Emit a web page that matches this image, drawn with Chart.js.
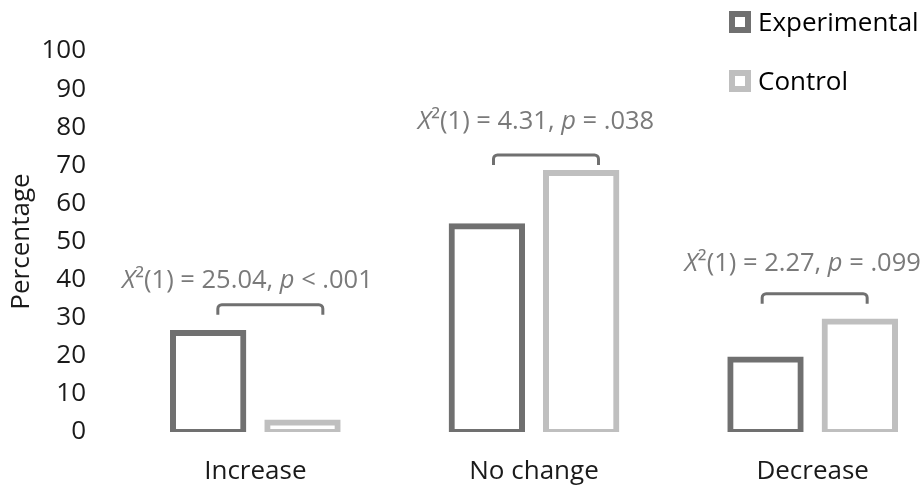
<!DOCTYPE html>
<html>
<head>
<meta charset="utf-8">
<script src="https://cdn.jsdelivr.net/npm/chart.js@4/dist/chart.umd.min.js"></script>
<style>
  html, body { margin: 0; padding: 0; background: #fff; overflow: hidden; }
  #wrap { position: relative; width: 922px; height: 490px; overflow: hidden; }
  #chart { position: absolute; left: 0; top: 0; }
</style>
</head>
<body>
<div id="wrap"><canvas id="chart" width="960" height="490"></canvas></div>
<script>
// Share of participants whose score went up, stayed the same or went down
const categories = ['Increase', 'No change', 'Decrease'];
const seriesNames = ['Experimental', 'Control'];
const experimental = [26, 54, 19];
const control = [2.5, 68, 29];
const yTicks = [0, 10, 20, 30, 40, 50, 60, 70, 80, 90, 100];

// Chi-square test between the two groups, one per category
const chiSquare = ['25.04', '4.31', '2.27'];
const pValues = ['< .001', '= .038', '= .099'];

const FONT = '"Open Sans", "Noto Sans", sans-serif';
const DARK = '#707070';
const LIGHT = '#bfbfbf';

// Brackets and test labels placed over each pair of bars
const statsPlugin = {
  id: 'stats',
  afterDraw(chart, args, opts) {
    const { ctx } = chart;
    const xs = chart.scales.x, ys = chart.scales.y;
    ctx.save();
    categories.forEach((cat, i) => {
      const cx = xs.getPixelForValue(i);
      // bracket
      const bx = cx + opts.bracketShift[i];
      const left = bx - opts.bracketWidth / 2, right = bx + opts.bracketWidth / 2;
      const y = ys.getPixelForValue(opts.bracketLevel[i]);
      const leg = opts.legLength, r = 4;
      ctx.beginPath();
      ctx.moveTo(left, y + leg);
      ctx.lineTo(left, y + r);
      ctx.arcTo(left, y, left + r, y, r);
      ctx.lineTo(right - r, y);
      ctx.arcTo(right, y, right, y + r, r);
      ctx.lineTo(right, y + leg);
      ctx.lineWidth = 3;
      ctx.strokeStyle = DARK;
      ctx.lineCap = 'butt';
      ctx.stroke();

      // label with italic X and p
      const parts = [
        { t: 'X', it: true },
        { t: '\u00B2(1) = ' + chiSquare[i] + ', ', it: false },
        { t: 'p', it: true },
        { t: ' ' + pValues[i], it: false }
      ];
      const fontFor = p => (p.it ? 'italic ' : '') + opts.fontSize + 'px ' + FONT;
      let total = 0;
      parts.forEach(p => { ctx.font = fontFor(p); p.w = ctx.measureText(p.t).width; total += p.w; });
      let x = cx + opts.textShift[i] - total / 2;
      const base = ys.getPixelForValue(opts.textLevel[i]);
      ctx.fillStyle = '#7a7a7a';
      ctx.textBaseline = 'alphabetic';
      ctx.textAlign = 'left';
      parts.forEach(p => { ctx.font = fontFor(p); ctx.fillText(p.t, x, base); x += p.w; });
    });
    ctx.restore();
  }
};

// Legend in the top right corner, one row per series
const legendPlugin = {
  id: 'cornerLegend',
  afterDraw(chart, args, opts) {
    const { ctx } = chart;
    ctx.save();
    chart.data.datasets.forEach((ds, i) => {
      const cy = opts.rows[i];
      const s = opts.box;
      ctx.lineWidth = 6;
      ctx.strokeStyle = ds.borderColor;
      ctx.strokeRect(opts.x + 3, cy - s / 2 + 3, s - 6, s - 6);
      ctx.font = opts.fontSize + 'px ' + FONT;
      ctx.fillStyle = '#000';
      ctx.textBaseline = 'alphabetic';
      ctx.textAlign = 'left';
      ctx.fillText(ds.label, opts.x + s + 7, cy + 9);
    });
    ctx.restore();
  }
};

const barStyle = {
  backgroundColor: 'rgba(0,0,0,0)',
  borderWidth: 0.001,
  borderSkipped: false,
  inflateAmount: 3,
  categoryPercentage: 0.677,
  barPercentage: 0.746
};

new Chart(document.getElementById('chart'), {
  type: 'bar',
  data: {
    labels: categories,
    datasets: [
      Object.assign({ label: seriesNames[0], data: experimental, borderColor: DARK }, barStyle),
      Object.assign({ label: seriesNames[1], data: control, borderColor: LIGHT }, barStyle)
    ]
  },
  options: {
    responsive: false,
    animation: false,
    events: [],
    devicePixelRatio: 1,
    layout: { padding: { top: 51, right: 8, bottom: 0, left: 0 } },
    plugins: {
      legend: { display: false },
      tooltip: { enabled: false },
      stats: {
        fontSize: 25.5,
        bracketWidth: 105,
        bracketShift: [15, 12, 2],
        bracketLevel: [33.4, 72.7, 36.3],
        legLength: 10,
        textShift: [-8, 2, -10],
        textLevel: [37.9, 79.6, 42.3]
      },
      cornerLegend: { x: 729, rows: [22, 81], box: 22, fontSize: 26 }
    },
    scales: {
      x: {
        afterFit: axis => { axis.height = 58; },
        grid: { display: false },
        border: { display: false },
        ticks: { font: { family: FONT, size: 26 }, color: '#1a1a1a', padding: 16, maxRotation: 0 }
      },
      y: {
        min: 0,
        max: 100,
        afterBuildTicks: axis => { axis.ticks = yTicks.map(v => ({ value: v })); },
        afterFit: axis => { axis.width = 116; },
        grid: { display: false },
        border: { display: false },
        ticks: { font: { family: FONT, size: 26 }, color: '#1a1a1a', padding: 22 },
        title: {
          display: true,
          text: 'Percentage',
          font: { family: FONT, size: 26 },
          color: '#1a1a1a',
          padding: { top: 6, bottom: 0 }
        }
      }
    }
  },
  plugins: [statsPlugin, legendPlugin]
});
</script>
</body>
</html>
